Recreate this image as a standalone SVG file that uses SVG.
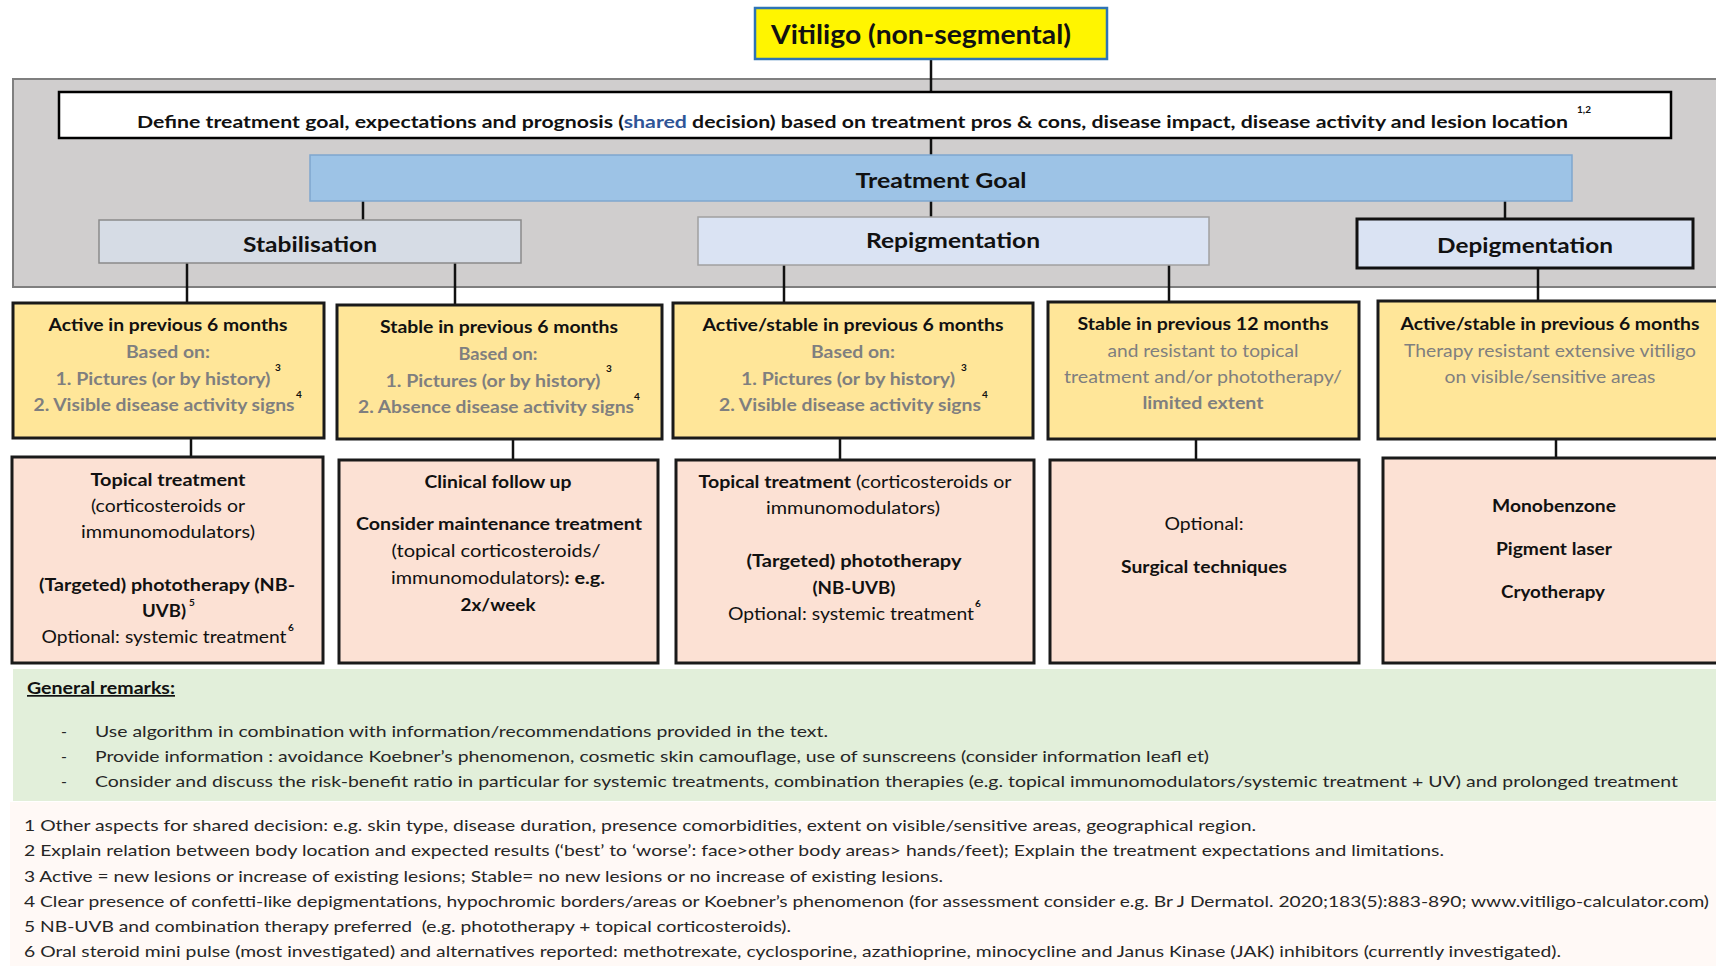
<svg xmlns="http://www.w3.org/2000/svg" width="1716" height="966" viewBox="0 0 1716 966">
<style>
text{font-family:Lato,"Liberation Sans",sans-serif;fill:#111}
.m{text-anchor:middle}
.b{font-weight:bold}
.g{fill:#7F7F7F}
.bx{font-size:16.5px}
.h2{font-size:21px;font-weight:bold}
.sup{font-size:10px;font-weight:bold}
.conn line{stroke:#111;stroke-width:2.5}
.yel{fill:#FFE699;stroke:#1a1a1a;stroke-width:3}
.pch{fill:#FCE1D4;stroke:#1a1a1a;stroke-width:3}
.ft{font-size:16px;fill:#262626}
</style>
<rect x="0" y="0" width="1716" height="966" fill="#fff"/>
<g id="panel-gray"><rect x="13" y="79" width="1720" height="208" fill="#D0CECE" stroke="#7F7F7F" stroke-width="2"/></g>
<g id="connectors" class="conn">
<line x1="931" y1="59" x2="931" y2="92"/>
<line x1="931" y1="138" x2="931" y2="155"/>
<line x1="363" y1="201" x2="363" y2="220"/>
<line x1="931" y1="201" x2="931" y2="217"/>
<line x1="1505" y1="201" x2="1505" y2="219"/>
<line x1="187" y1="263" x2="187" y2="303"/>
<line x1="455" y1="263" x2="455" y2="305"/>
<line x1="784" y1="265" x2="784" y2="303"/>
<line x1="1169" y1="265" x2="1169" y2="302"/>
<line x1="1538" y1="268" x2="1538" y2="301"/>
<line x1="191" y1="438" x2="191" y2="457"/>
<line x1="513" y1="439" x2="513" y2="460"/>
<line x1="840" y1="438" x2="840" y2="460"/>
<line x1="1196" y1="439" x2="1196" y2="460"/>
<line x1="1556" y1="439" x2="1556" y2="458"/>
</g>
<g id="title">
<rect x="755" y="8" width="352" height="51" fill="#FFF500" stroke="#2E74B5" stroke-width="2.5"/>
<text x="921" y="44" class="m b" font-size="26" textLength="300" lengthAdjust="spacingAndGlyphs">Vitiligo (non-segmental)</text>
</g>
<g id="define">
<rect x="59" y="92" width="1612" height="46" fill="#fff" stroke="#000" stroke-width="2.5"/>
<text x="137" y="128" class="b" font-size="17.5" textLength="1431" lengthAdjust="spacingAndGlyphs">Define treatment goal, expectations and prognosis (<tspan fill="#2F5597">shared</tspan> decision) based on treatment pros &amp; cons, disease impact, disease activity and lesion location</text>
<text x="1584" y="113" class="sup m">1,2</text>
</g>
<g id="goal">
<rect x="310" y="155" width="1262" height="46" fill="#9DC3E6" stroke="#7FA7CE" stroke-width="1.5"/>
<text x="941" y="188" class="m h2" textLength="171" lengthAdjust="spacingAndGlyphs">Treatment Goal</text>
</g>
<g id="stabilisation">
<rect x="99" y="220" width="422" height="43" fill="#D6DCE5" stroke="#8A8A8A" stroke-width="1.5"/>
<text x="310" y="252" class="m h2" textLength="134" lengthAdjust="spacingAndGlyphs">Stabilisation</text>
</g>
<g id="repigmentation">
<rect x="698" y="217" width="511" height="48" fill="#DAE3F3" stroke="#A0A0A0" stroke-width="1.5"/>
<text x="953" y="248" class="m h2" textLength="174" lengthAdjust="spacingAndGlyphs">Repigmentation</text>
</g>
<g id="depigmentation">
<rect x="1357" y="219" width="336" height="49" fill="#DAE3F3" stroke="#111" stroke-width="3"/>
<text x="1525" y="253" class="m h2" textLength="176" lengthAdjust="spacingAndGlyphs">Depigmentation</text>
</g>
<g id="stab-active" class="bx">
<rect x="13" y="303" width="311" height="135" class="yel"/>
<text x="168" y="331" class="m b" textLength="239" lengthAdjust="spacingAndGlyphs">Active in previous 6 months</text>
<text x="168" y="358" class="m b g" textLength="84" lengthAdjust="spacingAndGlyphs">Based on:</text>
<text x="163" y="385" class="m b g" textLength="215" lengthAdjust="spacingAndGlyphs">1. Pictures (or by history)</text>
<text x="164" y="411" class="m b g" textLength="261" lengthAdjust="spacingAndGlyphs">2. Visible disease activity signs</text>
<text x="278" y="371" class="sup m">3</text>
<text x="299" y="398" class="sup m">4</text>
</g>
<g id="stab-stable" class="bx">
<rect x="337" y="305" width="325" height="134" class="yel"/>
<text x="499" y="333" class="m b" textLength="238" lengthAdjust="spacingAndGlyphs">Stable in previous 6 months</text>
<text x="498" y="360" class="m b g" textLength="79" lengthAdjust="spacingAndGlyphs">Based on:</text>
<text x="493" y="387" class="m b g" textLength="215" lengthAdjust="spacingAndGlyphs">1. Pictures (or by history)</text>
<text x="496" y="413" class="m b g" textLength="276" lengthAdjust="spacingAndGlyphs">2. Absence disease activity signs</text>
<text x="609" y="372" class="sup m">3</text>
<text x="637" y="400" class="sup m">4</text>
</g>
<g id="repig-active" class="bx">
<rect x="673" y="303" width="360" height="135" class="yel"/>
<text x="853" y="331" class="m b" textLength="301" lengthAdjust="spacingAndGlyphs">Active/stable in previous 6 months</text>
<text x="853" y="358" class="m b g" textLength="84" lengthAdjust="spacingAndGlyphs">Based on:</text>
<text x="848" y="385" class="m b g" textLength="214" lengthAdjust="spacingAndGlyphs">1. Pictures (or by history)</text>
<text x="850" y="411" class="m b g" textLength="262" lengthAdjust="spacingAndGlyphs">2. Visible disease activity signs</text>
<text x="964" y="371" class="sup m">3</text>
<text x="985" y="398" class="sup m">4</text>
</g>
<g id="repig-stable" class="bx">
<rect x="1048" y="302" width="311" height="137" class="yel"/>
<text x="1203" y="330" class="m b" textLength="251" lengthAdjust="spacingAndGlyphs">Stable in previous 12 months</text>
<text x="1203" y="357" class="m g" textLength="191" lengthAdjust="spacingAndGlyphs">and resistant to topical</text>
<text x="1203" y="383" class="m g" textLength="278" lengthAdjust="spacingAndGlyphs">treatment and/or phototherapy/</text>
<text x="1203" y="409" class="m b g" textLength="121" lengthAdjust="spacingAndGlyphs">limited extent</text>
</g>
<g id="depig-active" class="bx">
<rect x="1378" y="301" width="360" height="138" class="yel"/>
<text x="1550" y="330" class="m b" textLength="299" lengthAdjust="spacingAndGlyphs">Active/stable in previous 6 months</text>
<text x="1550" y="357" class="m g" textLength="292" lengthAdjust="spacingAndGlyphs">Therapy resistant extensive vitiligo</text>
<text x="1550" y="383" class="m g" textLength="211" lengthAdjust="spacingAndGlyphs">on visible/sensitive areas</text>
</g>
<g id="stab-active-tx" class="bx">
<rect x="12" y="457" width="311" height="206" class="pch"/>
<text x="168" y="486" class="m b" textLength="155" lengthAdjust="spacingAndGlyphs">Topical treatment</text>
<text x="168" y="512" class="m" textLength="154" lengthAdjust="spacingAndGlyphs">(corticosteroids or</text>
<text x="168" y="538" class="m" textLength="174" lengthAdjust="spacingAndGlyphs">immunomodulators)</text>
<text x="167" y="591" class="m b" textLength="256" lengthAdjust="spacingAndGlyphs">(Targeted) phototherapy (NB-</text>
<text x="164" y="617" class="m b" textLength="44" lengthAdjust="spacingAndGlyphs">UVB)</text>
<text x="192" y="606" class="sup m">5</text>
<text x="164" y="643" class="m" textLength="245" lengthAdjust="spacingAndGlyphs">Optional: systemic treatment</text>
<text x="291" y="631" class="sup m">6</text>
</g>
<g id="stab-stable-tx" class="bx">
<rect x="339" y="460" width="319" height="203" class="pch"/>
<text x="498" y="488" class="m b" textLength="147" lengthAdjust="spacingAndGlyphs">Clinical follow up</text>
<text x="499" y="530" class="m b" textLength="286" lengthAdjust="spacingAndGlyphs">Consider maintenance treatment</text>
<text x="496" y="557" class="m" textLength="209" lengthAdjust="spacingAndGlyphs">(topical corticosteroids/</text>
<text x="498" y="584" class="m" textLength="214" lengthAdjust="spacingAndGlyphs">immunomodulators)<tspan class="b">: e.g.</tspan></text>
<text x="498" y="611" class="m b" textLength="75" lengthAdjust="spacingAndGlyphs">2x/week</text>
</g>
<g id="repig-active-tx" class="bx">
<rect x="676" y="460" width="358" height="203" class="pch"/>
<text x="855" y="488" class="m" textLength="313" lengthAdjust="spacingAndGlyphs"><tspan class="b">Topical treatment</tspan> (corticosteroids or</text>
<text x="853" y="514" class="m" textLength="174" lengthAdjust="spacingAndGlyphs">immunomodulators)</text>
<text x="854" y="567" class="m b" textLength="215" lengthAdjust="spacingAndGlyphs">(Targeted) phototherapy</text>
<text x="854" y="594" class="m b" textLength="83" lengthAdjust="spacingAndGlyphs">(NB-UVB)</text>
<text x="851" y="620" class="m" textLength="246" lengthAdjust="spacingAndGlyphs">Optional: systemic treatment</text>
<text x="978" y="607" class="sup m">6</text>
</g>
<g id="repig-stable-tx" class="bx">
<rect x="1050" y="460" width="309" height="203" class="pch"/>
<text x="1204" y="530" class="m" textLength="79" lengthAdjust="spacingAndGlyphs">Optional:</text>
<text x="1204" y="573" class="m b" textLength="166" lengthAdjust="spacingAndGlyphs">Surgical techniques</text>
</g>
<g id="depig-tx" class="bx">
<rect x="1383" y="458" width="350" height="205" class="pch"/>
<text x="1554" y="512" class="m b" textLength="124" lengthAdjust="spacingAndGlyphs">Monobenzone</text>
<text x="1554" y="555" class="m b" textLength="116" lengthAdjust="spacingAndGlyphs">Pigment laser</text>
<text x="1553" y="598" class="m b" textLength="104" lengthAdjust="spacingAndGlyphs">Cryotherapy</text>
</g>
<g id="general-remarks">
<rect x="13" y="669" width="1703" height="132" fill="#E2EFDA"/>
<text x="27" y="694" class="b" font-size="17" fill="#262626" text-decoration="underline" textLength="148" lengthAdjust="spacingAndGlyphs">General remarks:</text>
<text x="61" y="737" class="ft">-</text>
<text x="61" y="762" class="ft">-</text>
<text x="61" y="787" class="ft">-</text>
<text x="95" y="737" class="ft" textLength="733" lengthAdjust="spacingAndGlyphs">Use algorithm in combination with information/recommendations provided in the text.</text>
<text x="95" y="762" class="ft" textLength="1114" lengthAdjust="spacingAndGlyphs">Provide information : avoidance Koebner’s phenomenon, cosmetic skin camouflage, use of sunscreens (consider information leafl et)</text>
<text x="95" y="787" class="ft" textLength="1583" lengthAdjust="spacingAndGlyphs">Consider and discuss the risk-benefit ratio in particular for systemic treatments, combination therapies (e.g. topical immunomodulators/systemic treatment + UV) and prolonged treatment</text>
</g>
<g id="footnotes">
<rect x="10" y="802" width="1706" height="164" fill="#FFF9F6"/>
<text x="24" y="831" class="ft" textLength="1232" lengthAdjust="spacingAndGlyphs">1 Other aspects for shared decision: e.g. skin type, disease duration, presence comorbidities, extent on visible/sensitive areas, geographical region.</text>
<text x="24" y="856" class="ft" textLength="1420" lengthAdjust="spacingAndGlyphs">2 Explain relation between body location and expected results (‘best’ to ‘worse’: face&gt;other body areas&gt; hands/feet); Explain the treatment expectations and limitations.</text>
<text x="24" y="882" class="ft" textLength="919" lengthAdjust="spacingAndGlyphs">3 Active = new lesions or increase of existing lesions; Stable= no new lesions or no increase of existing lesions.</text>
<text x="24" y="907" class="ft" textLength="1685" lengthAdjust="spacingAndGlyphs">4 Clear presence of confetti-like depigmentations, hypochromic borders/areas or Koebner’s phenomenon (for assessment consider e.g. Br J Dermatol. 2020;183(5):883-890; www.vitiligo-calculator.com)</text>
<text x="24" y="932" class="ft" textLength="767" lengthAdjust="spacingAndGlyphs" xml:space="preserve">5 NB-UVB and combination therapy preferred  (e.g. phototherapy + topical corticosteroids).</text>
<text x="24" y="957" class="ft" textLength="1537" lengthAdjust="spacingAndGlyphs">6 Oral steroid mini pulse (most investigated) and alternatives reported: methotrexate, cyclosporine, azathioprine, minocycline and Janus Kinase (JAK) inhibitors (currently investigated).</text>
</g>
</svg>
